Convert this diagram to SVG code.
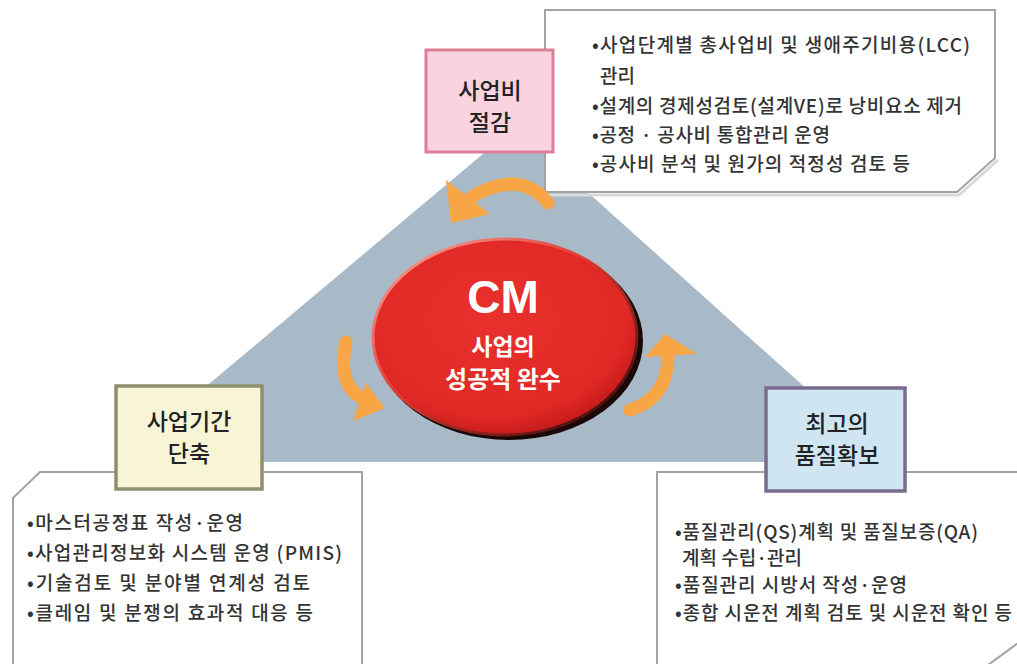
<svg xmlns="http://www.w3.org/2000/svg" width="1017" height="664" viewBox="0 0 1017 664">
<defs>
<style>
.tb{fill:#ffffff;stroke:#a3a3a3;stroke-width:2}
.sh{fill:none;stroke:#d9d9d9;stroke-width:3}
.t{font-family:"Noto Sans CJK KR","Noto Sans",sans-serif;font-size:19px;fill:#333333;font-weight:500}
.lb{font-family:"Noto Sans CJK KR","Noto Sans",sans-serif;font-size:23px;fill:#222222;text-anchor:middle;font-weight:500}
.w{font-family:"Noto Sans CJK KR","Noto Sans",sans-serif;fill:#ffffff;text-anchor:middle;font-weight:bold}
.cm{font-family:"Liberation Sans",Arial,sans-serif;fill:#ffffff;text-anchor:middle;font-weight:bold;font-size:46px}
.arr{fill:none;stroke:#f8a545;stroke-width:13;stroke-linecap:round}
.ah{fill:#f8a545}
</style>
<radialGradient id="rg" cx="0.45" cy="0.4" r="0.6">
<stop offset="0" stop-color="#e8302c"/>
<stop offset="0.85" stop-color="#e02824"/>
<stop offset="1" stop-color="#c81c1c"/>
</radialGradient>
<linearGradient id="eg" x1="0" y1="0" x2="1" y2="1">
<stop offset="0" stop-color="#f7b0a8"/>
<stop offset="0.45" stop-color="#e03a30"/>
<stop offset="1" stop-color="#1a0505"/>
</linearGradient>
</defs>
<rect width="1017" height="664" fill="#ffffff"/>
<polygon id="triangle" points="515,127 888,462 116,462" fill="#a8bac7"/>

<g id="box-cost-text">
<path class="sh" d="M548,195 L959,195 L998,160"/>
<path class="tb" d="M545,10 L995,10 L995,158 L957,192 L545,192 Z"/>
<text class="t" x="592" y="52" textLength="378" lengthAdjust="spacing">•사업단계별 총사업비 및 생애주기비용(LCC)</text>
<text class="t" x="600" y="83">관리</text>
<text class="t" x="592" y="113" textLength="370" lengthAdjust="spacing">•설계의 경제성검토(설계VE)로 낭비요소 제거</text>
<text class="t" x="592" y="142" textLength="238" lengthAdjust="spacing">•공정 · 공사비 통합관리 운영</text>
<text class="t" x="592" y="171" textLength="318" lengthAdjust="spacing">•공사비 분석 및 원가의 적정성 검토 등</text>
</g>

<g id="box-time-text">
<path class="tb" d="M40,472 L362,472 L362,670 L13,670 L13,498 Z"/>
<text class="t" x="27" y="530" textLength="216" lengthAdjust="spacing">•마스터공정표 작성·운영</text>
<text class="t" x="27" y="560" textLength="315" lengthAdjust="spacing">•사업관리정보화 시스템 운영 (PMIS)</text>
<text class="t" x="27" y="590" textLength="283" lengthAdjust="spacing">•기술검토 및 분야별 연계성 검토</text>
<text class="t" x="27" y="620" textLength="286" lengthAdjust="spacing">•클레임 및 분쟁의 효과적 대응 등</text>
</g>

<g id="box-quality-text">
<path class="tb" d="M657,472 L1022,472 L1022,640 L984,668 L657,668 Z"/>
<text class="t" x="675" y="539" textLength="303" lengthAdjust="spacing">•품질관리(QS)계획 및 품질보증(QA)</text>
<text class="t" x="682" y="565">계획 수립·관리</text>
<text class="t" x="675" y="592" textLength="232" lengthAdjust="spacing">•품질관리 시방서 작성·운영</text>
<text class="t" x="675" y="620" textLength="337" lengthAdjust="spacing">•종합 시운전 계획 검토 및 시운전 확인 등</text>
</g>

<g id="node-cost">
<rect x="426" y="50" width="127" height="102" fill="#f9d4e0" stroke="#de7f98" stroke-width="3"/>
<text class="lb" x="490" y="99">사업비</text>
<text class="lb" x="490" y="131">절감</text>
</g>

<g id="node-time">
<rect x="116" y="386" width="146" height="103" fill="#f8f5d6" stroke="#8e8f6c" stroke-width="3.5"/>
<text class="lb" x="189" y="430">사업기간</text>
<text class="lb" x="189" y="462">단축</text>
</g>

<g id="node-quality">
<rect x="766" y="388" width="139" height="103" fill="#cfe6f2" stroke="#7b6b8c" stroke-width="3.5"/>
<text class="lb" x="837" y="432">최고의</text>
<text class="lb" x="837" y="464">품질확보</text>
</g>

<g id="node-cm">
<ellipse cx="509" cy="341" rx="134" ry="99" fill="#1a0808"/>
<ellipse cx="505" cy="337" rx="132" ry="98" fill="url(#rg)" stroke="url(#eg)" stroke-width="3"/>
<text class="cm" x="503" y="313">CM</text>
<text class="w" x="503" y="355" font-size="23">사업의</text>
<text class="w" x="503" y="388" font-size="24">성공적 완수</text>
</g>

<g id="connectors">
<path class="arr" d="M548,203 Q520,168 470,198"/>
<polygon class="ah" points="451,223 446,180 490,214"/>
<path class="arr" d="M346,342 Q336,388 366,400"/>
<polygon class="ah" points="385,408 366,383 353,421"/>
<path class="arr" d="M630,410 Q668,398 668,356"/>
<polygon class="ah" points="665,334 645,357 697,354"/>
</g>
</svg>
